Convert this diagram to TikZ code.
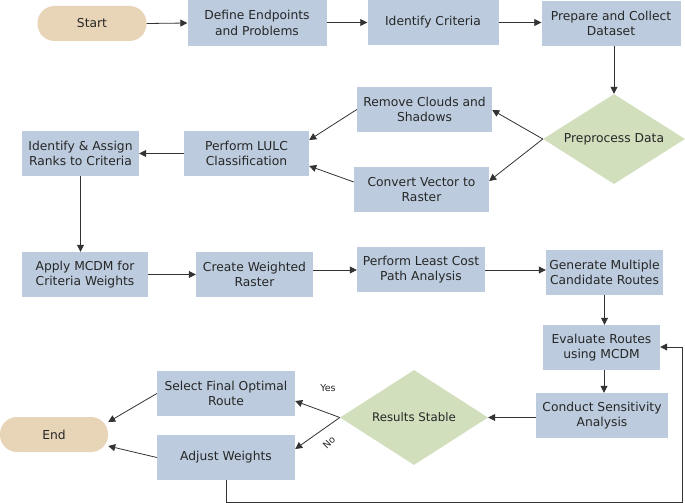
\documentclass[tikz,border=0pt]{standalone}
\usepackage{fontspec}
\setmainfont{DejaVu Sans}
\usetikzlibrary{shapes.geometric,arrows.meta}
\definecolor{boxblue}{HTML}{BCCCDE}
\definecolor{dgreen}{HTML}{D2DFBD}
\definecolor{pill}{HTML}{E8D5B7}
\definecolor{lin}{HTML}{333333}
\begin{document}
\begin{tikzpicture}[x=1pt,y=-1pt,
  proc/.style={fill=boxblue,draw=none,align=center,inner sep=0pt,font=\fontsize{12.3}{15.5}\selectfont,text=black!85},
  dec/.style={diamond,fill=dgreen,draw=none,align=center,inner sep=0pt,font=\fontsize{12.3}{15}\selectfont,text=black!85},
  term/.style={rectangle,rounded corners=17pt,fill=pill,draw=none,inner sep=0pt,font=\fontsize{12.3}{15}\selectfont,text=black!85},
  arr/.style={draw=lin,line width=0.8pt,-{Triangle[length=7pt,width=7pt]}},
  lbl/.style={font=\fontsize{9.5}{11}\selectfont,text=black!85}]
\useasboundingbox (0,0) rectangle (685,503);
\node[term,minimum width=109pt,minimum height=35pt] (start) at (92,23.5) {Start};
\node[proc,minimum width=139pt,minimum height=46pt] (def) at (257,23) {Define Endpoints\\and Problems};
\node[proc,minimum width=131pt,minimum height=45pt] (idc) at (433,22.5) {Identify Criteria};
\node[proc,minimum width=139pt,minimum height=45pt] (prep) at (611,23.5) {Prepare and Collect\\Dataset};
\node[dec,minimum width=142pt,minimum height=90pt,aspect=1.58] (pre) at (614,139) {Preprocess Data};
\node[proc,minimum width=135pt,minimum height=45pt] (rem) at (424.5,109.5) {Remove Clouds and\\Shadows};
\node[proc,minimum width=135pt,minimum height=45pt] (conv) at (421.5,189.5) {Convert Vector to\\Raster};
\node[proc,minimum width=125pt,minimum height=45pt] (lulc) at (246.5,153.5) {Perform LULC\\Classification};
\node[proc,minimum width=117pt,minimum height=45pt] (ida) at (80.5,153.5) {Identify \& Assign\\Ranks to Criteria};
\node[proc,minimum width=126pt,minimum height=45pt] (app) at (85,274.5) {Apply MCDM for\\Criteria Weights};
\node[proc,minimum width=117pt,minimum height=45pt] (cw) at (254.5,274.5) {Create Weighted\\Raster};
\node[proc,minimum width=128pt,minimum height=45pt] (lcp) at (421,269.5) {Perform Least Cost\\Path Analysis};
\node[proc,minimum width=117pt,minimum height=45pt] (gen) at (604.5,272.5) {Generate Multiple\\Candidate Routes};
\node[proc,minimum width=117pt,minimum height=45pt] (eval) at (601.5,347.5) {Evaluate Routes\\using MCDM};
\node[proc,minimum width=132pt,minimum height=45pt] (sens) at (602,415.5) {Conduct Sensitivity\\Analysis};
\node[dec,minimum width=148pt,minimum height=95pt,aspect=1.56] (rs) at (414,417.5) {\fontsize{11.8}{14}\selectfont Results Stable};
\node[proc,minimum width=138pt,minimum height=45pt] (sel) at (226,393.5) {Select Final Optimal\\Route};
\node[proc,minimum width=138pt,minimum height=45pt] (adj) at (226,457.5) {Adjust Weights};
\node[term,minimum width=108pt,minimum height=35pt] (end) at (54,434.5) {End};
\node[lbl,inner sep=1pt] (yes) at (328,388) {Yes};
\node[lbl,rotate=45,inner sep=0pt] (no) at (329,443) {No};
\coordinate (c1) at (226,502);
\coordinate (c2) at (682,502);
\coordinate (c3) at (682,347);
\draw[arr] (start.east) -- (def.west);
\draw[arr] (def.east |- idc.west) -- (idc.west);
\draw[arr] (idc.east) -- (prep.west |- idc.east);
\draw[arr] (prep.south -| pre.north) -- (pre.north);
\draw[arr] (pre.west) -- (rem.east |- 0,110);
\draw[arr] (pre.west) -- (conv.east |- 0,181);
\draw[arr] (rem.west) -- (lulc.east |- 0,140);
\draw[arr] (conv.west |- 0,182) -- (lulc.east |- 0,166);
\draw[arr] (lulc.west) -- (ida.east);
\draw[arr] (ida.south) -- (ida.south |- app.north);
\draw[arr] (app.east) -- (cw.west);
\draw[arr] (cw.east |- 0,270) -- (lcp.west |- 0,270);
\draw[arr] (lcp.east |- 0,270) -- (gen.west |- 0,270);
\draw[arr] (gen.south) -- (gen.south |- eval.north);
\draw[arr] (eval.south -| 604,0) -- (sens.north -| 604,0);
\draw[arr] (sens.west |- rs.east) -- (rs.east);
\draw[arr] (rs.west) -- (sel.east |- 0,401);
\draw[arr] (rs.west) -- (adj.east |- 0,449);
\draw[arr] (sel.west) -- (end.east |- 0,422);
\draw[arr] (adj.west) -- (end.east |- 0,446);
\draw[arr] (adj.south) -- (c1) -- (c2) -- (c3) -- (eval.east |- c3);
\end{tikzpicture}
\end{document}
